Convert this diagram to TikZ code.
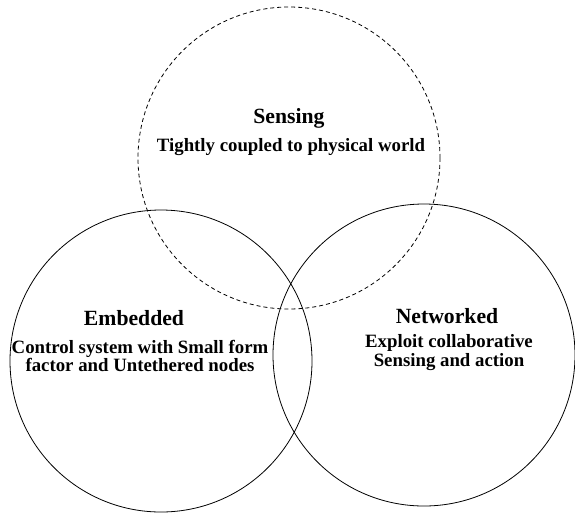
\documentclass[tikz,border=0pt]{standalone}
\usepackage{fontspec}
\setmainfont{Liberation Serif}
\begin{document}
\begin{tikzpicture}[x=1pt,y=-1pt,
  ring/.style={draw=black,line width=0.8pt,circle,minimum size=302pt,inner sep=0pt},
  dashring/.style={ring,dash pattern=on 4pt off 3pt},
  title/.style={font=\fontsize{21.7}{24}\selectfont\bfseries,inner sep=0pt},
  body/.style={font=\fontsize{18.8}{18.5}\selectfont\bfseries,align=center,inner sep=0pt}]
\useasboundingbox (0,0) rectangle (575,515);
\node[dashring] (sens) at (289,158) {};
\node[ring] (emb) at (161,361) {};
\node[ring] (net) at (424,355) {};
\node[title] (tsens) at (289,118) {Sensing};
\node[body] (bsens) at (291,147) {Tightly coupled to physical world};
\node[title] (temb) at (134,318) {Embedded};
\node[body] (bemb) at (140,356) {Control system with Small form\\factor and Untethered nodes};
\node[title] (tnet) at (447,316) {Networked};
\node[body] (bnet) at (449,352.5) {Exploit collaborative\\Sensing and action};
\end{tikzpicture}
\end{document}
